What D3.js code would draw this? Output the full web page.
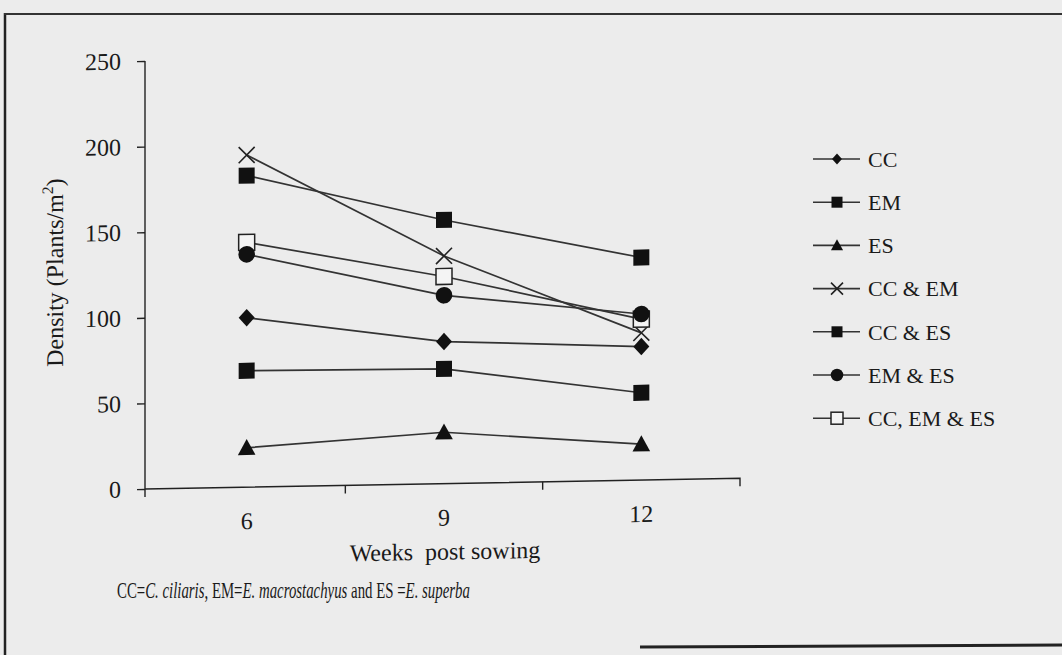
<!DOCTYPE html>
<html><head><meta charset="utf-8">
<script src="https://cdn.jsdelivr.net/npm/d3@7"></script>
<style>
html,body{margin:0;padding:0;background:#ececec;}
svg{display:block;}
text{font-family:"Liberation Serif","Times New Roman",serif;fill:#1a1a1a;}
</style></head>
<body>
<svg id="chart" width="1062" height="655"></svg>
<script>
// ---- data ----
const weeks = ["6", "9", "12"];
const seriesNames = ["CC", "EM", "ES", "CC & EM", "CC & ES", "EM & ES", "CC, EM & ES"];
const ccValues = [99, 83, 78];
const emValues = [182, 154, 130];
const esValues = [23, 30, 21];
const ccEmValues = [194, 133, 86];
const ccEsValues = [68, 67, 51];
const emEsValues = [136, 110, 97];
const ccEmEsValues = [143, 121, 94];
const yTicks = [0, 50, 100, 150, 200, 250];

const seriesValues = [ccValues, emValues, esValues, ccEmValues, ccEsValues, emEsValues, ccEmEsValues];
const markerKinds = ["diamond", "square", "triangle", "x", "square", "circle", "open"];

const svg = d3.select("#chart");
svg.append("rect").attr("width", 1062).attr("height", 655).attr("fill", "#ececec");

// frame of the scanned figure
svg.append("line").attr("x1", 5).attr("x2", 5).attr("y1", 13).attr("y2", 655).attr("stroke", "#222").attr("stroke-width", 2.5);
svg.append("line").attr("x1", 4).attr("x2", 1062).attr("y1", 14).attr("y2", 14).attr("stroke", "#333").attr("stroke-width", 2);
svg.append("line").attr("x1", 640).attr("x2", 1062).attr("y1", 647).attr("y2", 645).attr("stroke", "#222").attr("stroke-width", 3);

const x0 = 145, y0 = 489;
const x = d3.scaleBand().domain(weeks).range([148, 740]).padding(0);
const y = d3.scaleLinear().domain([0, 250]).range([489, 61]);

// the scanned plot is slightly skewed
const plot = svg.append("g")
  .attr("transform", `translate(${x0},${y0}) skewY(-1.03) translate(${-x0},${-y0})`);

// y axis
const yAxis = d3.axisLeft(y).tickValues(yTicks).tickSize(8).tickPadding(16);
const gy = plot.append("g").attr("transform", `translate(${x0},0)`).call(yAxis);
gy.select(".domain").attr("d", `M0,${y(250)}V${y(0) + 8}`);
gy.selectAll("line,path").attr("stroke", "#222").attr("stroke-width", 1.4);
gy.selectAll("text").attr("font-size", 24).attr("font-family", "Liberation Serif").attr("fill", "#1a1a1a");

// x axis (category)
const xAxis = d3.axisBottom(x).tickSize(0).tickPadding(25);
const gx = plot.append("g").attr("transform", `translate(0,${y(0)})`).call(xAxis);
gx.select(".domain").attr("d", `M${x0},0H${x.range()[1]}V8`).attr("stroke", "#222").attr("stroke-width", 1.4).attr("fill", "none");
gx.selectAll("text").attr("font-size", 24).attr("font-family", "Liberation Serif").attr("fill", "#1a1a1a");
// boundary ticks between categories
gx.selectAll(".bt").data(weeks.slice(1)).enter().append("line")
  .attr("x1", d => x(d)).attr("x2", d => x(d)).attr("y1", 0).attr("y2", 8)
  .attr("stroke", "#222").attr("stroke-width", 1.4);

// axis titles
plot.append("text").attr("x", 445).attr("y", 565).attr("text-anchor", "middle")
  .attr("font-family", "Liberation Serif").attr("font-size", 24).text("Weeks\u00a0 post sowing");
const yl = plot.append("text").attr("transform", "translate(63,271) rotate(-90)")
  .attr("text-anchor", "middle").attr("font-family", "Liberation Serif").attr("font-size", 24);
yl.append("tspan").text("Density (Plants/m");
yl.append("tspan").attr("dy", -10).attr("font-size", 16).text("2");
yl.append("tspan").attr("dy", 10).text(")");

// markers
function drawMarker(g, kind, cx, cy, s) {
  const fill = "#111";
  if (kind === "diamond") {
    g.append("path").attr("d", `M${cx},${cy - s * 0.55}L${cx + s * 0.5},${cy}L${cx},${cy + s * 0.55}L${cx - s * 0.5},${cy}Z`).attr("fill", fill);
  } else if (kind === "square") {
    g.append("rect").attr("x", cx - s / 2).attr("y", cy - s / 2).attr("width", s).attr("height", s).attr("fill", fill);
  } else if (kind === "triangle") {
    g.append("path").attr("d", `M${cx},${cy - s * 0.55}L${cx + s * 0.55},${cy + s * 0.45}L${cx - s * 0.55},${cy + s * 0.45}Z`).attr("fill", fill);
  } else if (kind === "circle") {
    g.append("circle").attr("cx", cx).attr("cy", cy).attr("r", s * 0.52).attr("fill", fill);
  } else if (kind === "x") {
    const h = s * 0.5;
    g.append("path").attr("d", `M${cx - h},${cy - h}L${cx + h},${cy + h}M${cx - h},${cy + h}L${cx + h},${cy - h}`)
      .attr("stroke", "#222").attr("stroke-width", 1.6).attr("fill", "none");
  } else if (kind === "open") {
    g.append("rect").attr("x", cx - s / 2).attr("y", cy - s / 2).attr("width", s).attr("height", s)
      .attr("fill", "#f4f4f4").attr("stroke", "#222").attr("stroke-width", 1.5);
  }
}

const line = d3.line().x((d, i) => x(weeks[i]) + x.bandwidth() / 2).y(d => y(d));
const linesG = plot.append("g");
seriesValues.forEach(vals => {
  linesG.append("path").attr("d", line(vals)).attr("fill", "none").attr("stroke", "#333").attr("stroke-width", 1.7);
});
const markG = plot.append("g");
const drawOrder = [3, 6, 0, 2, 4, 5, 1];
drawOrder.forEach(si => {
  seriesValues[si].forEach((v, i) => {
    drawMarker(markG, markerKinds[si], x(weeks[i]) + x.bandwidth() / 2, y(v), 16);
  });
});

// legend
const lg = svg.append("g");
const legendSizes = {diamond: 10, square: 11, triangle: 11, x: 12, circle: 12, open: 12};
seriesNames.forEach((name, i) => {
  const ly = 159 + i * 43.2;
  lg.append("line").attr("x1", 813).attr("x2", 860).attr("y1", ly).attr("y2", ly).attr("stroke", "#333").attr("stroke-width", 1.6);
  drawMarker(lg, markerKinds[i], 837, ly, legendSizes[markerKinds[i]]);
  lg.append("text").attr("x", 868).attr("y", ly).attr("dy", "0.35em").attr("font-size", 22).text(name);
});

// caption (condensed to the reference width)
const cap = svg.append("text").attr("font-size", 23);
cap.append("tspan").text("CC=");
cap.append("tspan").attr("font-style", "italic").text("C. ciliaris");
cap.append("tspan").text(", EM=");
cap.append("tspan").attr("font-style", "italic").text("E. macrostachyus");
cap.append("tspan").text(" and ES =");
cap.append("tspan").attr("font-style", "italic").text("E. superba");
const cw = cap.node().getBBox().width;
cap.attr("transform", `translate(117,598) scale(${353 / cw},1)`);
</script>
</body></html>
